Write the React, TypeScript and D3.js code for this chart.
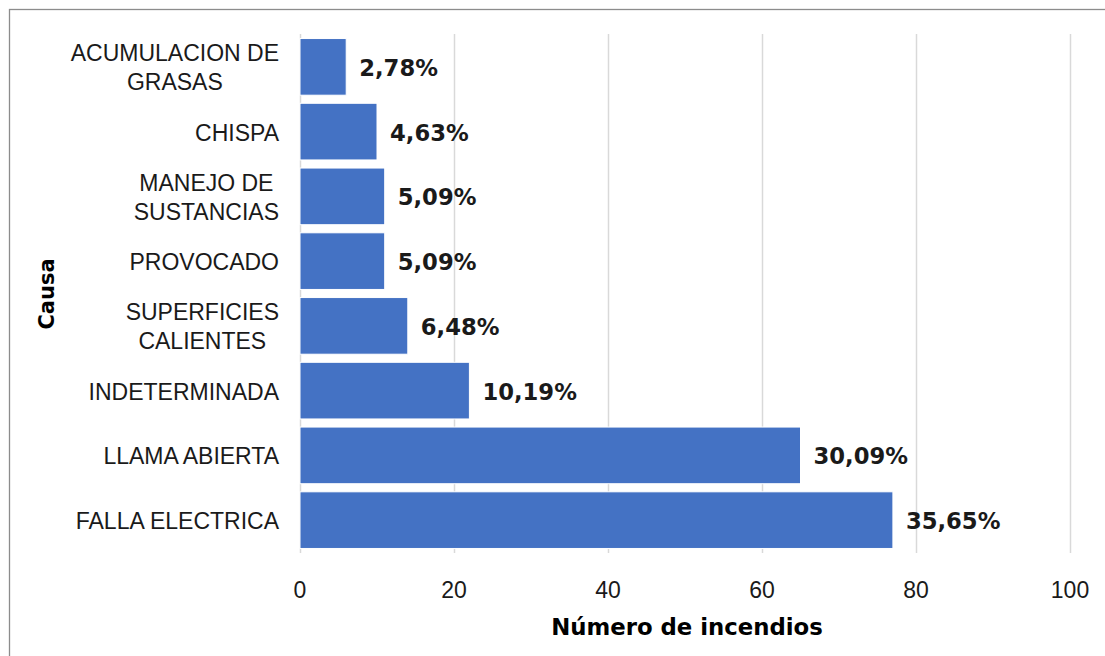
import React, { useEffect, useRef } from "react";
import * as d3 from "d3";

const categories: string[][] = [
  ["ACUMULACION DE", "GRASAS"],
  ["CHISPA"],
  ["MANEJO DE", "SUSTANCIAS"],
  ["PROVOCADO"],
  ["SUPERFICIES", "CALIENTES"],
  ["INDETERMINADA"],
  ["LLAMA ABIERTA"],
  ["FALLA ELECTRICA"],
];
const counts: number[] = [6, 10, 11, 11, 14, 22, 65, 77];
const xTicks: number[] = [0, 20, 40, 60, 80, 100];
const xTitle = "Número de incendios";
const yTitle = "Causa";

const W = 1105;
const H = 656;
const LABEL_FONT = "'Liberation Sans', Arial, sans-serif";
const BOLD_FONT = "'DejaVu Sans', Verdana, sans-serif";

export default function App() {
  const ref = useRef<SVGSVGElement>(null);

  useEffect(() => {
    const svg = d3.select(ref.current);
    svg.selectAll("*").remove();

    const total = d3.sum(counts);
    const x = d3.scaleLinear().domain([0, 100]).range([300, 1070]);
    const y = d3
      .scaleBand<number>()
      .domain(d3.range(categories.length))
      .range([34, 553])
      .paddingInner(0.125)
      .paddingOuter(0.07);

    svg
      .append("rect")
      .attr("x", 9.5)
      .attr("y", 9.5)
      .attr("width", W + 20)
      .attr("height", H + 20)
      .attr("fill", "white")
      .attr("stroke", "#8c8c8c")
      .attr("stroke-width", 1.3);

    // gridlines
    svg
      .append("g")
      .selectAll("line")
      .data(xTicks)
      .join("line")
      .attr("x1", (d) => x(d) + 0.5)
      .attr("x2", (d) => x(d) + 0.5)
      .attr("y1", 34)
      .attr("y2", 553)
      .attr("stroke", "#d9d9d9")
      .attr("stroke-width", 1.5);

    // bars
    svg
      .append("g")
      .selectAll("rect")
      .data(counts)
      .join("rect")
      .attr("x", x(0))
      .attr("y", (_, i) => y(i)!)
      .attr("width", (d) => x(d) - x(0))
      .attr("height", y.bandwidth())
      .attr("fill", "#4472c4")
      .attr("stroke", "#ffffff")
      .attr("stroke-width", 1);

    // data labels
    const fmt = d3.format(".2f");
    svg
      .append("g")
      .selectAll("text")
      .data(counts)
      .join("text")
      .attr("x", (d) => x(d) + 13)
      .attr("y", (_, i) => y(i)! + y.bandwidth() / 2 + 9)
      .attr("font-family", BOLD_FONT)
      .attr("font-weight", "bold")
      .attr("font-size", 22.7)
      .attr("fill", "#1a1a1a")
      .text((d) => fmt((d / total) * 100).replace(".", ",") + "%");

    // category labels
    const lineH = 29;
    const right = 279;
    categories.forEach((lines, i) => {
      const cy = y(i)! + y.bandwidth() / 2;
      const g = svg.append("g");
      const texts = lines.map((l, j) =>
        g
          .append("text")
          .attr("font-family", LABEL_FONT)
          .attr("font-size", 23)
          .attr("fill", "#1a1a1a")
          .attr("text-anchor", "middle")
          .attr("y", cy + (j - (lines.length - 1) / 2) * lineH + 9)
          .text(l)
      );
      const maxW = d3.max(texts, (t) => (t.node() as SVGTextElement).getComputedTextLength()) || 0;
      texts.forEach((t) => t.attr("x", right - maxW / 2));
    });

    // x tick labels
    svg
      .append("g")
      .selectAll("text")
      .data(xTicks)
      .join("text")
      .attr("x", (d) => x(d))
      .attr("y", 598)
      .attr("text-anchor", "middle")
      .attr("font-family", LABEL_FONT)
      .attr("font-size", 23)
      .attr("fill", "#1a1a1a")
      .text((d) => String(d));

    // axis titles
    svg
      .append("text")
      .attr("x", (x(0) + x(100)) / 2 + 2)
      .attr("y", 635)
      .attr("text-anchor", "middle")
      .attr("font-family", BOLD_FONT)
      .attr("font-weight", "bold")
      .attr("font-size", 22.8)
      .attr("fill", "#000")
      .text(xTitle);

    svg
      .append("text")
      .attr("transform", "translate(54,294) rotate(-90)")
      .attr("text-anchor", "middle")
      .attr("font-family", BOLD_FONT)
      .attr("font-weight", "bold")
      .attr("font-size", 21)
      .attr("fill", "#000")
      .text(yTitle);
  }, []);

  return (
    <svg
      ref={ref}
      width={W}
      height={H}
      style={{ position: "absolute", left: 0, top: 0, background: "white" }}
    />
  );
}
